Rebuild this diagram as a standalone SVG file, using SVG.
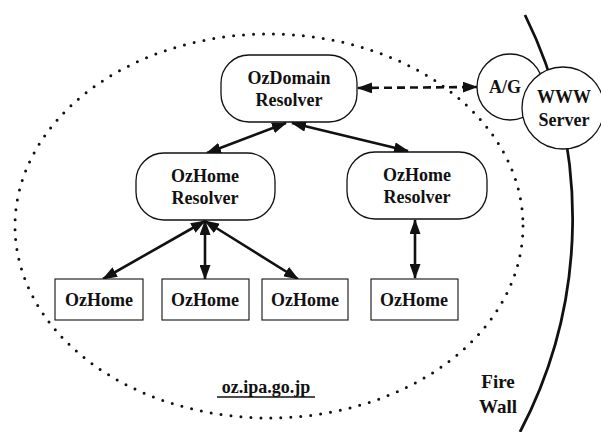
<svg xmlns="http://www.w3.org/2000/svg" width="601" height="432" viewBox="0 0 601 432">
<style>
  text { font-family: "Liberation Serif", "Times New Roman", serif; font-weight: bold; font-size: 18px; fill: #111; text-anchor: middle; }
  .big { font-size: 19px; }
  .node { fill: #fff; stroke: #111; stroke-width: 1.3; }
  .box { fill: #fff; stroke: #111; stroke-width: 1.1; }
  .conn { stroke: #111; stroke-width: 2.6; fill: none; marker-start: url(#ah); marker-end: url(#ah); }
  .dash { stroke-dasharray: 8 5; }
</style>
<defs>
  <marker id="ah" markerUnits="userSpaceOnUse" markerWidth="15" markerHeight="11" refX="14" refY="5.5" orient="auto-start-reverse">
    <path d="M0,0 L15,5.5 L0,11 z" fill="#111"/>
  </marker>
</defs>

<g id="domain-boundary">
  <ellipse cx="269" cy="226" rx="254" ry="192" fill="none" stroke="#111" stroke-width="3" stroke-linecap="round" stroke-dasharray="0 10"/>
</g>

<g id="firewall">
  <path d="M525,15 A459,459 0 0 1 520,432" fill="none" stroke="#111" stroke-width="2.8"/>
  <text class="big" x="498" y="388">Fire</text>
  <text class="big" x="498" y="413">Wall</text>
</g>

<g id="connectors">
  <line class="conn" x1="286" y1="123" x2="207" y2="153"/>
  <line class="conn" x1="292" y1="123" x2="408" y2="151"/>
  <line class="conn dash" x1="358" y1="88" x2="477" y2="87"/>
  <line class="conn" x1="205" y1="221" x2="103" y2="279"/>
  <line class="conn" x1="205" y1="221" x2="205" y2="279"/>
  <line class="conn" x1="205" y1="221" x2="298" y2="279"/>
  <line class="conn" x1="415" y1="220" x2="415" y2="278"/>
</g>

<g id="ozdomain-resolver">
  <rect class="node" x="221" y="55" width="136" height="67" rx="28" ry="28"/>
  <text x="289" y="84">OzDomain</text>
  <text x="289" y="106">Resolver</text>
</g>

<g id="ozhome-resolver-left">
  <rect class="node" x="136" y="153" width="139" height="67" rx="28" ry="28"/>
  <text x="205" y="182">OzHome</text>
  <text x="205" y="204">Resolver</text>
</g>

<g id="ozhome-resolver-right">
  <rect class="node" x="347" y="152" width="140" height="67" rx="28" ry="28"/>
  <text x="417" y="181">OzHome</text>
  <text x="417" y="203">Resolver</text>
</g>

<g id="ozhome-1">
  <rect class="box" x="55" y="279" width="88" height="41"/>
  <text x="99" y="306">OzHome</text>
</g>
<g id="ozhome-2">
  <rect class="box" x="162" y="279" width="87" height="41"/>
  <text x="205" y="306">OzHome</text>
</g>
<g id="ozhome-3">
  <rect class="box" x="262" y="279" width="86" height="41"/>
  <text x="305" y="306">OzHome</text>
</g>
<g id="ozhome-4">
  <rect class="box" x="371" y="279" width="87" height="41"/>
  <text x="414" y="306">OzHome</text>
</g>

<g id="ag">
  <circle class="node" cx="510" cy="87" r="33"/>
  <text x="505" y="93">A/G</text>
</g>

<g id="www-server">
  <circle class="node" cx="563" cy="108" r="41"/>
  <text x="564" y="103">WWW</text>
  <text x="564" y="126">Server</text>
</g>

<g id="domain-label">
  <text x="266" y="393">oz.ipa.go.jp</text>
  <line x1="217" y1="397" x2="315" y2="397" stroke="#111" stroke-width="1.5"/>
</g>
</svg>
